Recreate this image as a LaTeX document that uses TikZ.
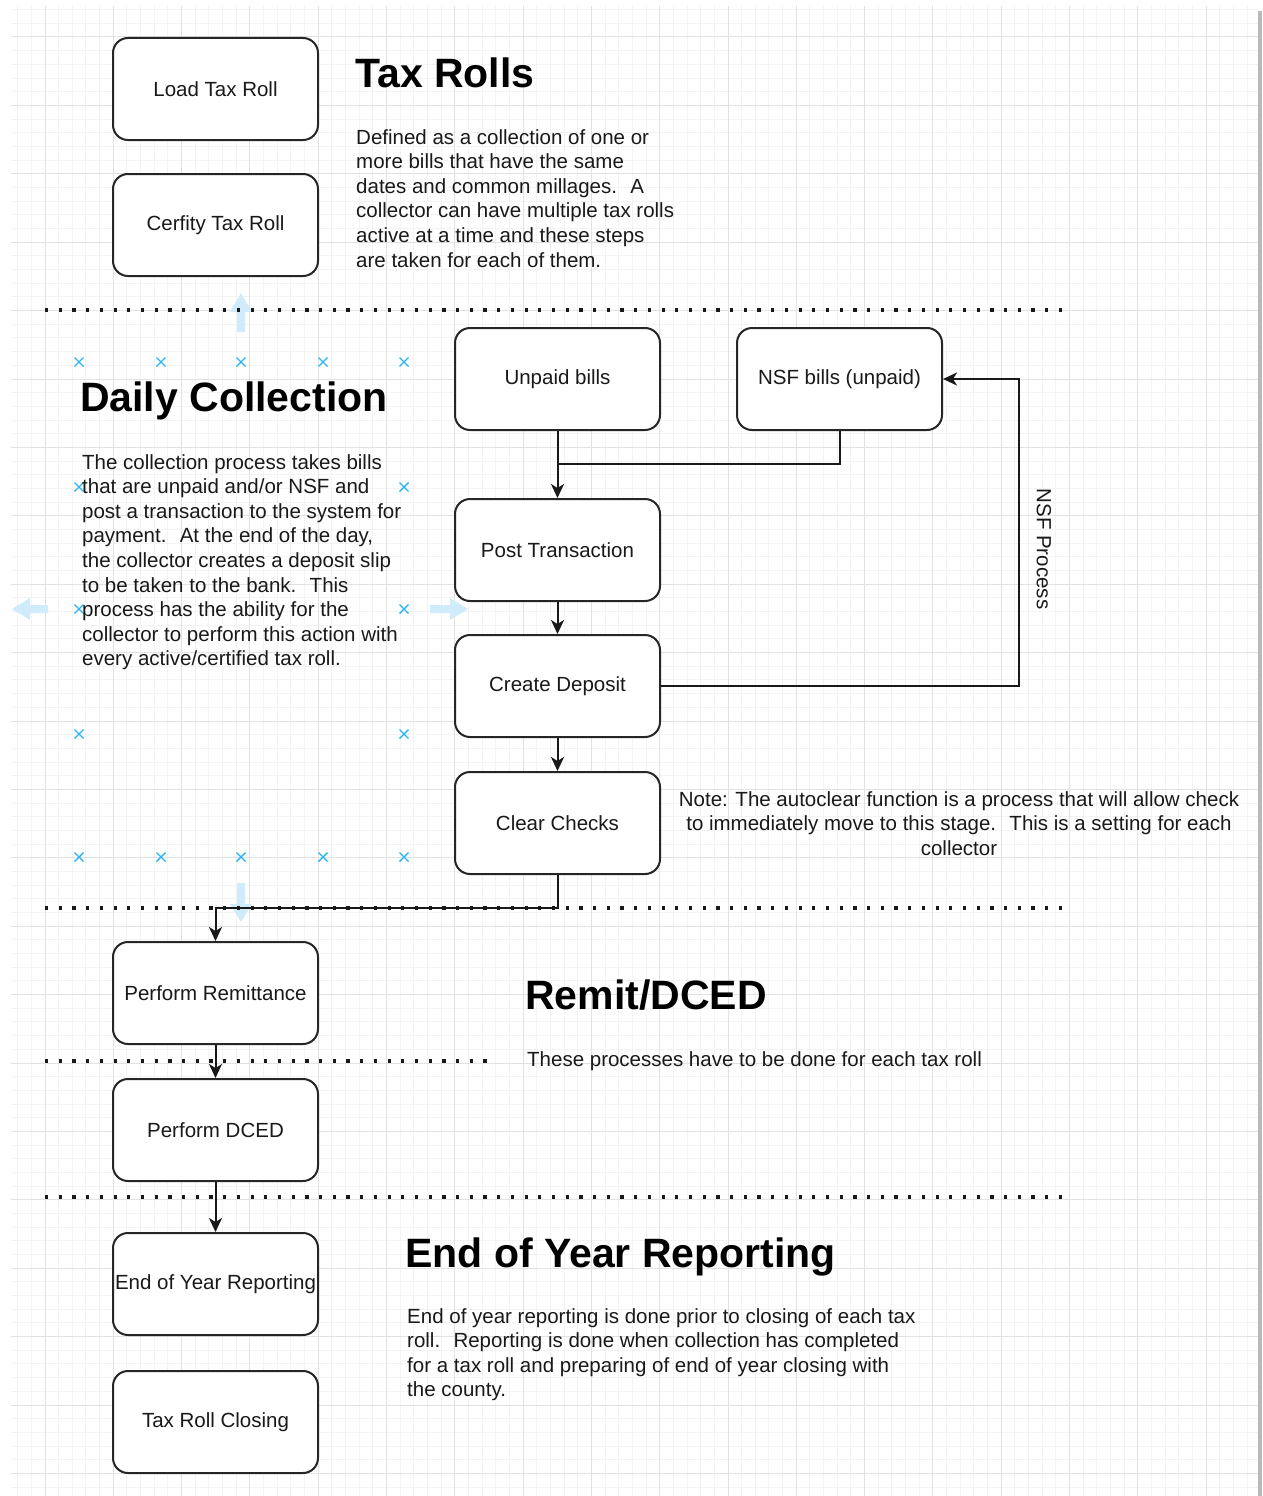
\documentclass[tikz,border=0pt]{standalone}
\usepackage{fontspec}
\setmainfont{Liberation Sans}
\usetikzlibrary{arrows.meta}
\definecolor{gridminor}{RGB}{243,243,243}
\definecolor{gridmajor}{RGB}{226,226,226}
\definecolor{handle}{RGB}{41,182,242}
\definecolor{hoverarrow}{RGB}{208,236,251}
\newcommand\myBody{\fontsize{20.5}{24.6}\selectfont}
\newcommand\myTitle{\fontsize{41}{48}\selectfont\bfseries}
\tikzset{
  box/.style={draw=black!85, line width=2pt, rounded corners=15pt, minimum width=205pt,
    minimum height=102pt, fill=white, font=\myBody, text=black!90, inner sep=0pt},
  conn/.style={line width=2pt, draw=black!90, -{Stealth[length=14pt,width=13pt,inset=4pt]}},
  plainline/.style={line width=2pt, draw=black!90},
  sepline/.style={line width=3.2pt, dash pattern=on 3.2pt off 10.5pt, draw=black!90},
  titletext/.style={font=\myTitle, inner sep=0pt, text=black},
  paratext/.style={font=\myBody, inner sep=0pt, align=left, text=black!90},
  handlemark/.style={draw=handle, line width=1.4pt},
}
\begin{document}
\begin{tikzpicture}[x=1pt,y=-1pt]
\useasboundingbox (0,0) rectangle (1263,1496);
\fill[white] (0,0) rectangle (1263,1496);
% grid
\begin{scope}
\clip (11,7) rectangle (1258,1496);
\foreach \k in {-3,...,89} \draw[gridminor, line width=1pt] ({45+13.66*\k},0) -- ({45+13.66*\k},1496);
\foreach \k in {-3,...,107} \draw[gridminor, line width=1pt] (0,{37+13.68*\k}) -- (1263,{37+13.68*\k});
\foreach \k in {-1,...,18} \draw[gridmajor, line width=1pt] ({45+68.3*\k},0) -- ({45+68.3*\k},1496);
\foreach \k in {-1,...,21} \draw[gridmajor, line width=1pt] (0,{37+68.4*\k}) -- (1263,{37+68.4*\k});
\end{scope}
\fill[gray!55] (1258,11) rectangle (1262,1496);
% hover arrows
\fill[hoverarrow] (237,332) -- (237,312) -- (230,312) -- (241,293) -- (252,312) -- (245,312) -- (245,332) -- cycle;
\fill[hoverarrow] (237,883) -- (237,904) -- (230,904) -- (241,922) -- (252,904) -- (245,904) -- (245,883) -- cycle;
\fill[hoverarrow] (48,605) -- (30,605) -- (30,598) -- (12,609) -- (30,620) -- (30,613) -- (48,613) -- cycle;
\fill[hoverarrow] (430,605) -- (450,605) -- (450,598) -- (468,609) -- (450,620) -- (450,613) -- (430,613) -- cycle;
% handle marks
\foreach \hx/\hy in {79/362,161/362,241/362,323/362,404/362,79/487,404/487,79/609,404/609,79/734,404/734,79/857,161/857,241/857,323/857,404/857}
  \draw[handlemark] (\hx-4.5,\hy-4.5) -- (\hx+4.5,\hy+4.5) (\hx-4.5,\hy+4.5) -- (\hx+4.5,\hy-4.5);
% separators
\coordinate (s1a) at (45,310); \coordinate (s1b) at (1062,310);
\coordinate (s2a) at (45,908); \coordinate (s2b) at (1062,908);
\coordinate (s3a) at (45,1061); \coordinate (s3b) at (488,1061);
\coordinate (s4a) at (45,1197); \coordinate (s4b) at (1062,1197);
\draw[sepline] (s1a) -- (s1b);
\draw[sepline] (s2a) -- (s2b);
\draw[sepline] (s3a) -- (s3b);
\draw[sepline] (s4a) -- (s4b);
% boxes
\node[box] (load) at (215.5,89) {Load Tax Roll};
\node[box] (cert) at (215.5,225) {Cerfity Tax Roll};
\node[box] (unpaid) at (557.5,379) {Unpaid bills};
\node[box] (nsf) at (839.5,379) {NSF bills (unpaid)};
\node[box] (post) at (557.5,550) {Post Transaction};
\node[box] (deposit) at (557.5,686) {Create Deposit};
\node[box] (clear) at (557.5,823) {Clear Checks};
\node[box] (remit) at (215.5,993) {Perform Remittance};
\node[box] (dced) at (215.5,1130) {Perform DCED};
\node[box] (eoy) at (215.5,1284) {End of Year Reporting};
\node[box] (close) at (215.5,1422) {Tax Roll Closing};
% connectors
\coordinate (join) at (557.5,464);
\coordinate (loop) at (1019,686);
\coordinate (bend) at (215.5,908);
\draw[conn] (unpaid.south) -- (post.north);
\draw[plainline] (nsf.south) |- (join);
\draw[conn] (post.south) -- (deposit.north);
\draw[conn] (deposit.south) -- (clear.north);
\draw[conn] (deposit.east) -- (loop) |- (nsf.east);
\draw[conn] (clear.south) |- (bend) -- (remit.north);
\draw[conn] (remit.south) -- (dced.north);
\draw[conn] (dced.south) -- (eoy.north);
\node[font=\myBody, text=black!90, rotate=-90, inner sep=0pt] (nsflabel) at (1044,549) {NSF Process};
% titles and texts
\node[titletext, anchor=base west] (t1) at (355,87) {Tax Rolls};
\node[paratext, anchor=north west] (p1) at (356,129) {Defined as a collection of one or\\more bills that have the same\\dates and common millages.~ A\\collector can have multiple tax rolls\\active at a time and these steps\\are taken for each of them.};
\node[titletext, anchor=base west] (t2) at (80,411) {Daily Collection};
\node[paratext, anchor=north west] (p2) at (82,454) {The collection process takes bills\\that are unpaid and/or NSF and\\post a transaction to the system for\\payment.~ At the end of the day,\\the collector creates a deposit slip\\to be taken to the bank.~ This\\process has the ability for the\\collector to perform this action with\\every active/certified tax roll.};
\node[paratext, align=center, anchor=north] (note) at (959,791) {Note: The autoclear function is a process that will allow check\\to immediately move to this stage.~ This is a setting for each\\collector};
\node[titletext, anchor=base west] (t3) at (525,1009) {Remit/DCED};
\node[paratext, anchor=base west] (p3) at (527,1066) {These processes have to be done for each tax roll};
\node[titletext, anchor=base west] (t4) at (405,1267) {End of Year Reporting};
\node[paratext, anchor=north west] (p4) at (407,1308) {End of year reporting is done prior to closing of each tax\\roll.~ Reporting is done when collection has completed\\for a tax roll and preparing of end of year closing with\\the county.};
\end{tikzpicture}
\end{document}
